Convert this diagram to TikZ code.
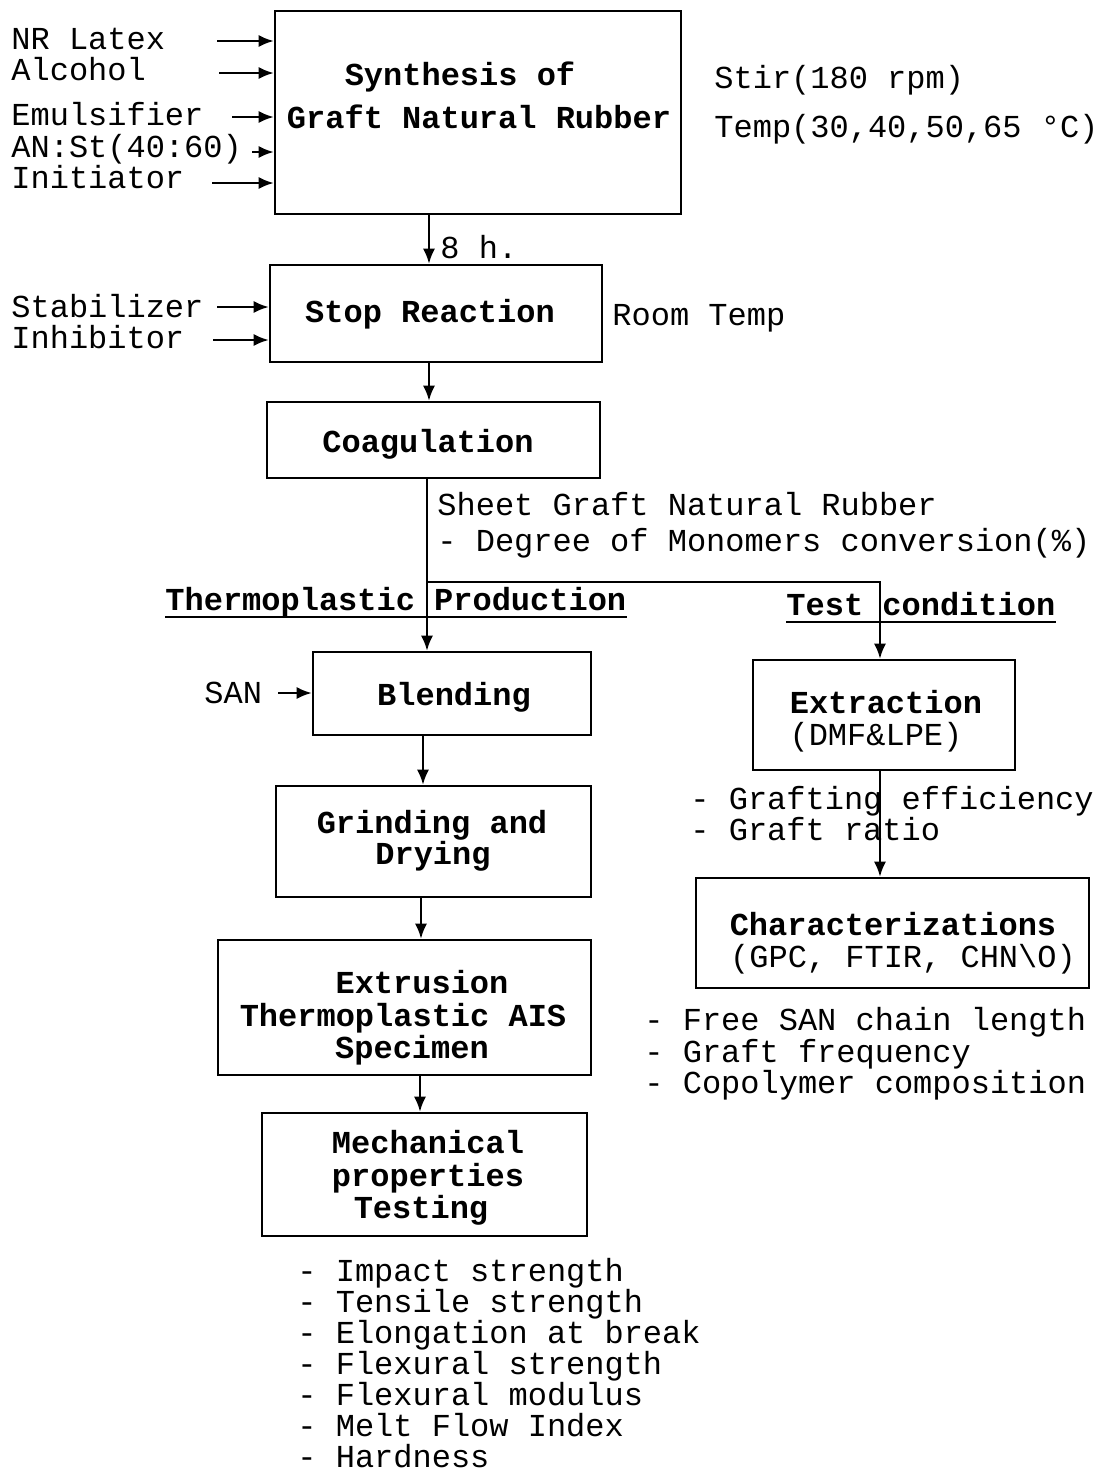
\documentclass[tikz,border=0pt]{standalone}
\usepackage{fontspec}
\setmainfont{Liberation Mono}
\usetikzlibrary{arrows.meta}
\begin{document}
\begin{tikzpicture}[x=0.5pt,y=-0.5pt,
  box/.style={draw, line width=1.3pt, inner sep=0pt},
  arr/.style={line width=1pt, -{Latex[length=7.5pt,width=6pt]}},
  ln/.style={line width=1pt},
  txt/.style={inner sep=0pt, anchor=base west, font=\fontsize{16}{16}\selectfont},
  ttl/.style={inner sep=0pt, anchor=base, font=\fontsize{16}{16}\selectfont\bfseries},
  sub/.style={inner sep=0pt, anchor=base, font=\fontsize{16}{16}\selectfont},
  hd/.style={inner sep=0pt, anchor=base west, font=\fontsize{16}{16}\selectfont\bfseries}]
\fill[white] (0,0) rectangle (1117,1474);
\useasboundingbox (0,0) rectangle (1117,1474);

% boxes
\node[box, minimum width=203pt, minimum height=101.5pt] (syn) at (478,112.5) {};
\node[box, minimum width=166pt, minimum height=48.5pt] (stop) at (436,313.5) {};
\node[box, minimum width=166.5pt, minimum height=38pt] (coag) at (433.5,440) {};
\node[box, minimum width=139pt, minimum height=41.5pt] (blend) at (452,693.5) {};
\node[box, minimum width=157.5pt, minimum height=55.5pt] (grind) at (433.5,841.5) {};
\node[box, minimum width=186.5pt, minimum height=67.5pt] (extr) at (404.5,1007.5) {};
\node[box, minimum width=162.5pt, minimum height=61.5pt] (mech) at (424.5,1174.5) {};
\node[box, minimum width=131pt, minimum height=55pt] (extract) at (884,715) {};
\node[box, minimum width=196.5pt, minimum height=55pt] (char) at (892.5,933) {};

% box titles
\node[ttl] (syn1) at (460,85) {Synthesis of};
\node[ttl] (syn2) at (479,128) {Graft Natural Rubber};
\node[ttl] (stopt) at (430,322) {Stop Reaction};
\node[ttl] (coagt) at (428,452) {Coagulation};
\node[ttl] (blendt) at (454,705) {Blending};
\node[ttl] (grind1) at (432,833) {Grinding and};
\node[ttl] (grind2) at (433,864) {Drying};
\node[ttl] (extr1) at (422,993) {Extrusion};
\node[ttl] (extr2) at (403,1026) {Thermoplastic AIS};
\node[ttl] (extr3) at (412,1058) {Specimen};
\node[ttl] (mech1) at (428,1153) {Mechanical};
\node[ttl] (mech2) at (428,1186) {properties};
\node[ttl] (mech3) at (421,1218) {Testing};
\node[ttl] (extract1) at (886,713) {Extraction};
\node[sub] (extract2) at (876,745) {(DMF\&LPE)};
\node[ttl] (char1) at (893,935) {Characterizations};
\node[sub] (char2) at (903,967) {(GPC, FTIR, CHN\textbackslash O)};

% inputs
\node[txt] (nr) at (11,49) {NR Latex};
\node[txt] (alc) at (11,80) {Alcohol};
\node[txt] (emu) at (11,125) {Emulsifier};
\node[txt] (ans) at (11,157) {AN:St(40:60)};
\node[txt] (ini) at (11,188) {Initiator};
\node[txt] (stab) at (11,317) {Stabilizer};
\node[txt] (inh) at (11,348) {Inhibitor};
\node[txt] (san) at (204,703) {SAN};

\coordinate (cnr) at (217,41);
\coordinate (calc) at (219,73);
\coordinate (cemu) at (232,117);
\coordinate (cans) at (252,152);
\coordinate (cini) at (212,183);
\coordinate (cstab) at (217,307);
\coordinate (cinh) at (213,340);
\coordinate (csan) at (278,693);
\draw[arr] (cnr) -- (cnr -| syn.west);
\draw[arr] (calc) -- (calc -| syn.west);
\draw[arr] (cemu) -- (cemu -| syn.west);
\draw[arr] (cans) -- (cans -| syn.west);
\draw[arr] (cini) -- (cini -| syn.west);
\draw[arr] (cstab) -- (cstab -| stop.west);
\draw[arr] (cinh) -- (cinh -| stop.west);
\draw[arr] (csan) -- (csan -| blend.west);

% side notes
\node[txt] (stir) at (714,88) {Stir(180 rpm)};
\node[txt] (temp) at (714,137) {Temp(30,40,50,65 °C)};
\node[txt] (room) at (612,325) {Room Temp};
\node[txt] (eight) at (440,258) {8 h.};
\node[txt] (sheet) at (437,515) {Sheet Graft Natural Rubber};
\node[txt] (deg) at (437,551) {- Degree of Monomers conversion(\%)};
\node[txt] (ge) at (690,809) {- Grafting efficiency};
\node[txt] (gr) at (690,840) {- Graft ratio};
\node[txt] (fs) at (644,1030) {- Free SAN chain length};
\node[txt] (gf) at (644,1062) {- Graft frequency};
\node[txt] (cc) at (644,1093) {- Copolymer composition};

% section headings
\node[hd] (tp) at (165,610) {Thermoplastic Production};
\node[hd] (tc) at (786,615) {Test condition};
\draw[ln] ([yshift=-3.5pt]tp.base west) -- ([yshift=-3.5pt]tp.base east);
\draw[ln] ([yshift=-3.5pt]tc.base west) -- ([yshift=-3.5pt]tc.base east);

% bottom list
\node[txt] (l1) at (297,1281) {- Impact strength};
\node[txt] (l2) at (297,1312) {- Tensile strength};
\node[txt] (l3) at (297,1343) {- Elongation at break};
\node[txt] (l4) at (297,1374) {- Flexural strength};
\node[txt] (l5) at (297,1405) {- Flexural modulus};
\node[txt] (l6) at (297,1436) {- Melt Flow Index};
\node[txt] (l7) at (297,1467) {- Hardness};

% main flow
\coordinate (xa) at (429,0);
\coordinate (xb) at (427,0);
\coordinate (xc) at (423,0);
\coordinate (xd) at (421,0);
\coordinate (xe) at (420,0);
\coordinate (xr) at (880,0);
\coordinate (j) at (427,582);
\draw[arr] (syn.south -| xa) -- (stop.north -| xa);
\draw[arr] (stop.south -| xa) -- (coag.north -| xa);
\draw[arr] (coag.south -| xb) -- (blend.north -| xb);
\draw[arr] (j) -| (extract.north -| xr);
\draw[arr] (blend.south -| xc) -- (grind.north -| xc);
\draw[arr] (grind.south -| xd) -- (extr.north -| xd);
\draw[arr] (extr.south -| xe) -- (mech.north -| xe);
\draw[arr] (extract.south -| xr) -- (char.north -| xr);
\end{tikzpicture}
\end{document}
